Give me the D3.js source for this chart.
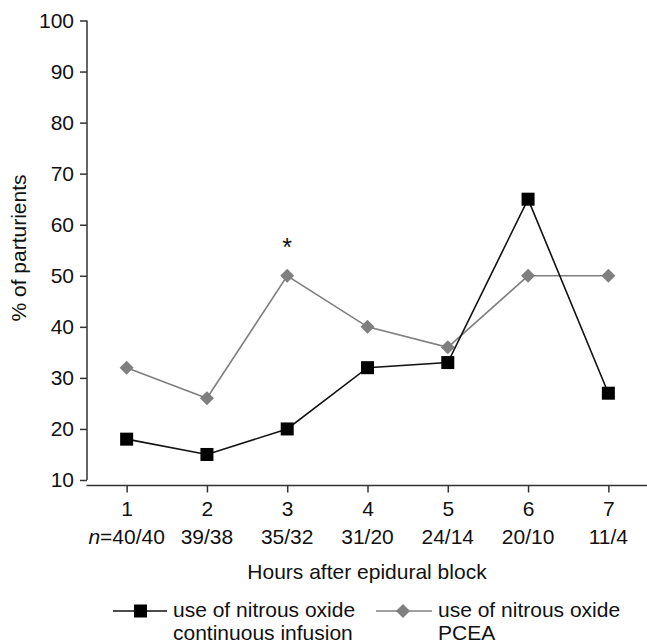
<!DOCTYPE html>
<html lang="en">
<head>
  <meta charset="UTF-8">
  <title>Nitrous oxide use after epidural block</title>
  <style>
    body { margin: 0; background: #fff; }
    svg text { font-family: "Liberation Sans", Arial, sans-serif; fill: #111; }
    .axis path, .axis line { stroke: #333; stroke-width: 1.5px; }
    .axis text { font-size: 21px; }
  </style>
  <script src="https://d3js.org/d3.v7.min.js"></script>
</head>
<body>
<div id="chart"></div>
<script>
  // Data
  var hours = [1, 2, 3, 4, 5, 6, 7];
  var nLabels = ["40/40", "39/38", "35/32", "31/20", "24/14", "20/10", "11/4"];
  var continuous = [18, 15, 20, 32, 33, 65, 27];
  var pcea = [32, 26, 50, 40, 36, 50, 50];
  var yTicks = [10, 20, 30, 40, 50, 60, 70, 80, 90, 100];
  var starHour = 3;

  var width = 647, height = 643;
  var svg = d3.select("#chart").append("svg")
    .attr("width", width)
    .attr("height", height);

  var x = d3.scaleLinear().domain([0.5, 7.5]).range([86.5, 648.5]);
  var y = d3.scaleLinear().domain([10, 100]).range([480, 20.5]);

  // y axis
  var yAxis = svg.append("g")
    .attr("class", "axis")
    .attr("transform", "translate(87,0)")
    .call(d3.axisLeft(y).tickValues(yTicks).tickSize(7).tickSizeOuter(0).tickPadding(6));
  yAxis.select(".domain").attr("d", "M0," + y(100) + "V" + y(10));

  // x axis, offset below the y axis
  var xAxis = svg.append("g")
    .attr("class", "axis")
    .attr("transform", "translate(0,485.5)")
    .call(d3.axisBottom(x).tickValues(hours).tickFormat(d3.format("d"))
      .tickSize(7).tickSizeOuter(0).tickPadding(9));
  xAxis.select(".domain").attr("d", "M86.5,0H648");

  // n labels under the ticks
  var nText = svg.append("g").selectAll("text")
    .data(hours)
    .enter().append("text")
    .attr("x", d => x(d))
    .attr("y", 544)
    .attr("text-anchor", "middle")
    .style("font-size", "21px");
  nText.each(function(d, i) {
    var t = d3.select(this);
    if (i === 0) {
      t.append("tspan").style("font-style", "italic").text("n");
      t.append("tspan").text("=" + nLabels[i]);
    } else {
      t.text(nLabels[i]);
    }
  });

  // axis titles
  svg.append("text")
    .attr("x", 367)
    .attr("y", 579)
    .attr("text-anchor", "middle")
    .style("font-size", "21px")
    .text("Hours after epidural block");

  svg.append("text")
    .attr("transform", "translate(26,248) rotate(-90)")
    .attr("text-anchor", "middle")
    .style("font-size", "21px")
    .text("% of parturients");

  var line = d3.line()
    .x((d, i) => x(hours[i]))
    .y(d => y(d));

  // PCEA series (grey diamonds)
  svg.append("path")
    .datum(pcea)
    .attr("d", line)
    .attr("fill", "none")
    .attr("stroke", "#7f7f7f")
    .attr("stroke-width", 1.6);

  var diamond = d3.symbol().type(d3.symbolDiamond2).size(125);
  svg.append("g").selectAll("path")
    .data(pcea)
    .enter().append("path")
    .attr("d", diamond)
    .attr("transform", (d, i) => "translate(" + x(hours[i]) + "," + y(d) + ")")
    .attr("fill", "#7f7f7f");

  // continuous infusion series (black squares)
  svg.append("path")
    .datum(continuous)
    .attr("d", line)
    .attr("fill", "none")
    .attr("stroke", "#111")
    .attr("stroke-width", 1.6);

  svg.append("g").selectAll("rect")
    .data(continuous)
    .enter().append("rect")
    .attr("x", (d, i) => x(hours[i]) - 6.5)
    .attr("y", d => y(d) - 6.5)
    .attr("width", 13)
    .attr("height", 13)
    .attr("fill", "#000");

  // significance marker
  svg.append("text")
    .attr("x", x(starHour))
    .attr("y", 256)
    .attr("text-anchor", "middle")
    .style("font-size", "25px")
    .text("*");

  // legend
  var leg1 = svg.append("g").attr("transform", "translate(113,611)");
  leg1.append("line").attr("x1", 0).attr("x2", 54).attr("stroke", "#111").attr("stroke-width", 1.6);
  leg1.append("rect").attr("x", 21).attr("y", -6.5).attr("width", 13).attr("height", 13).attr("fill", "#000");
  leg1.append("text").attr("x", 60).attr("y", 6).style("font-size", "21px").text("use of nitrous oxide");
  leg1.append("text").attr("x", 60).attr("y", 29).style("font-size", "21px").text("continuous infusion");

  var leg2 = svg.append("g").attr("transform", "translate(376,611)");
  leg2.append("line").attr("x1", 0).attr("x2", 56).attr("stroke", "#7f7f7f").attr("stroke-width", 1.6);
  leg2.append("path").attr("d", diamond).attr("transform", "translate(27,0)").attr("fill", "#7f7f7f");
  leg2.append("text").attr("x", 62).attr("y", 6).style("font-size", "21px").text("use of nitrous oxide");
  leg2.append("text").attr("x", 62).attr("y", 29).style("font-size", "21px").text("PCEA");
</script>
</body>
</html>
